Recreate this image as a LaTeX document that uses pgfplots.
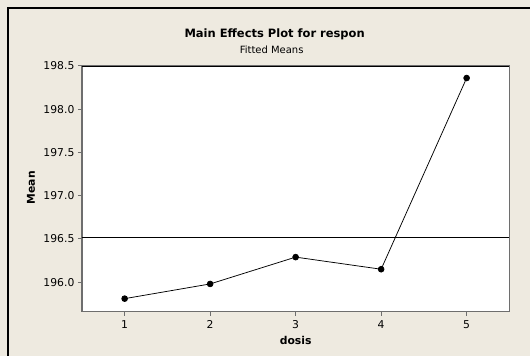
\documentclass[border=0pt]{standalone}
\usepackage{fontspec}
\setmainfont{DejaVu Sans}
\usepackage{pgfplots}
\pgfplotsset{compat=1.18}
\definecolor{bgc}{RGB}{238,234,224}
\definecolor{frm}{RGB}{110,110,110}
\begin{document}
\begin{tikzpicture}[x=1pt,y=1pt]
\fill[bgc] (0,0) rectangle (531,356);
\draw[black,line width=1.3pt] (8,0) -- (8,348) -- (531,348);
\begin{axis}[
  at={(82pt,44pt)}, anchor=south west,
  scale only axis, width=428pt, height=246pt,
  xmin=0.5, xmax=5.5, ymin=195.66, ymax=198.5,
  xtick={1,2,3,4,5},
  ytick={196.0,196.5,197.0,197.5,198.0,198.5},
  yticklabel style={/pgf/number format/.cd,fixed,fixed zerofill,precision=1},
  /pgf/number format/assume math mode=true,
  tick label style={font=\fontsize{10.8}{13}\selectfont, text=black},
  xticklabel style={yshift=-1pt},
  tick align=outside, tick pos=left,
  major tick length=4pt,
  tick style={frm, line width=0.9pt},
  axis line style={frm, line width=1.3pt},
  axis background/.style={fill=white},
  clip=false,
]
\addplot[black, line width=0.75pt, mark=*, mark size=2.9pt, mark options={fill=black}]
  coordinates {(1,195.81) (2,195.98) (3,196.29) (4,196.15) (5,198.36)};
\addplot[black, line width=0.75pt, no marks] coordinates {(0.5,196.516) (5.5,196.516)};
\end{axis}
\draw[black,line width=0.8pt] (82,290) -- (510,290);
\node[font=\fontsize{11.5}{13}\selectfont\bfseries] at (275,322) {Main Effects Plot for respon};
\node[font=\fontsize{10}{12}\selectfont] at (272,306) {Fitted Means};
\node[font=\fontsize{10.8}{12}\selectfont\bfseries, rotate=90] at (31,168) {Mean};
\node[font=\fontsize{10.8}{12}\selectfont\bfseries] at (296,15) {dosis};
\end{tikzpicture}
\end{document}
